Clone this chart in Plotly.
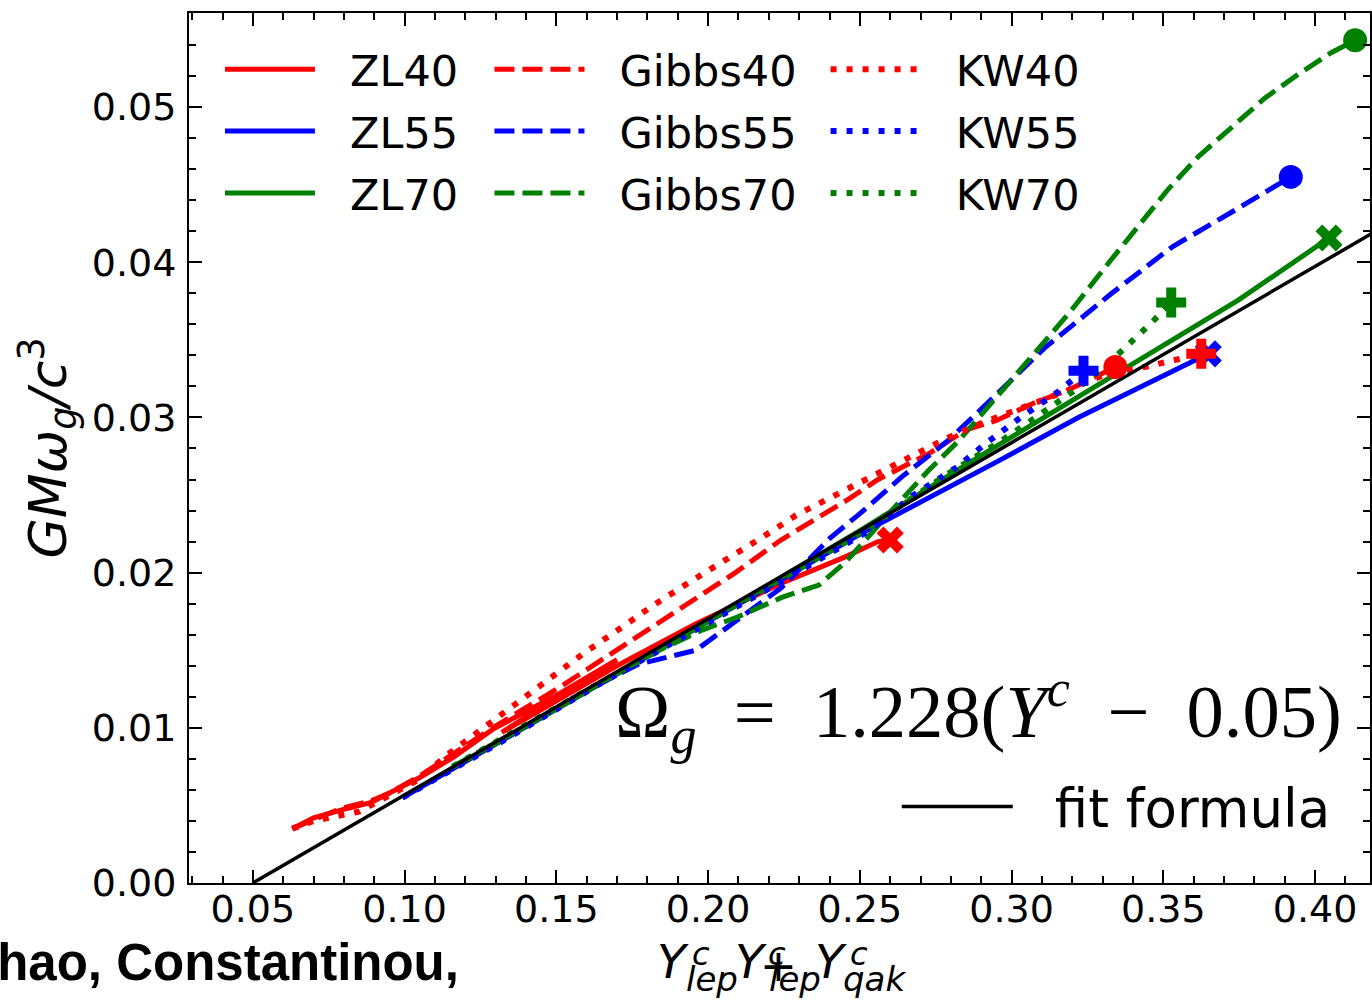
import plotly.graph_objects as go

# ---------------- data ----------------
ZL40_x = [0.063, 0.070, 0.079, 0.089, 0.095, 0.105, 0.116, 0.129, 0.151, 0.170, 0.132, 0.170, 0.196, 0.224, 0.245, 0.256, 0.260]
ZL40_y = [0.0035, 0.0042, 0.0047, 0.0052, 0.0058, 0.0068, 0.0081, 0.0099, 0.0122, 0.0144, 0.0097, 0.0140, 0.0167, 0.0193, 0.0210, 0.0220, 0.0221]

ZL55_x = [0.0993, 0.120, 0.150, 0.180, 0.210, 0.240, 0.2507, 0.2957, 0.322, 0.3648]
ZL55_y = [0.0055, 0.0078, 0.0112, 0.0146, 0.0180, 0.0214, 0.02255, 0.0272, 0.0300, 0.0341]

ZL70_x = [0.1158, 0.150, 0.200, 0.250, 0.2891, 0.330, 0.3747, 0.4046]
ZL70_y = [0.0074, 0.0112, 0.0169, 0.0227, 0.02745, 0.0323, 0.03756, 0.04156]

Gibbs40_x = [0.063, 0.079, 0.089, 0.095, 0.105, 0.116, 0.129, 0.151, 0.174, 0.191, 0.209, 0.224, 0.246, 0.256, 0.273, 0.285, 0.295, 0.307, 0.319, 0.3342]
Gibbs40_y = [0.0035, 0.0048, 0.0053, 0.0058, 0.0069, 0.0083, 0.0100, 0.0126, 0.0155, 0.0177, 0.0200, 0.0221, 0.0247, 0.0260, 0.0277, 0.0292, 0.0298, 0.0309, 0.0318, 0.03325]

Gibbs55_x = [0.0993, 0.118, 0.138, 0.158, 0.177, 0.196, 0.210, 0.224, 0.240, 0.250, 0.264, 0.279, 0.293, 0.311, 0.333, 0.353, 0.374, 0.392]
Gibbs55_y = [0.0055, 0.0076, 0.0099, 0.0122, 0.0141, 0.0150, 0.0170, 0.0190, 0.0222, 0.0238, 0.0262, 0.0285, 0.0311, 0.0345, 0.0380, 0.0410, 0.0434, 0.0455]

Gibbs70_x = [0.1158, 0.1378, 0.1697, 0.1839, 0.1980, 0.2092, 0.2243, 0.2365, 0.2454, 0.2539, 0.2628, 0.2727, 0.2826, 0.2990, 0.3089, 0.3197, 0.3309, 0.3418, 0.3516, 0.3615, 0.3724, 0.3836, 0.3944, 0.4053, 0.4132]
Gibbs70_y = [0.0075, 0.0099, 0.0135, 0.0150, 0.0163, 0.0171, 0.0184, 0.0192, 0.0207, 0.0226, 0.0245, 0.0266, 0.0285, 0.0322, 0.0345, 0.0369, 0.0397, 0.0423, 0.0447, 0.0468, 0.0487, 0.0506, 0.0521, 0.0535, 0.0543]

KW40_x = [0.063, 0.070, 0.085, 0.095, 0.104, 0.115, 0.126, 0.137, 0.148, 0.159, 0.171, 0.182, 0.194, 0.206, 0.218, 0.229, 0.242, 0.254, 0.266, 0.279, 0.291, 0.305, 0.318, 0.330, 0.345, 0.3625]
KW40_y = [0.0035, 0.0040, 0.0046, 0.0056, 0.0066, 0.0084, 0.0100, 0.0116, 0.0132, 0.0148, 0.0164, 0.0179, 0.0194, 0.0208, 0.0223, 0.0237, 0.0250, 0.0263, 0.0275, 0.0287, 0.0297, 0.0307, 0.0317, 0.0327, 0.0333, 0.0341]

KW55_x = [0.0993, 0.131, 0.164, 0.197, 0.223, 0.253, 0.267, 0.282, 0.292, 0.303, 0.315, 0.3237]
KW55_y = [0.0055, 0.0090, 0.0128, 0.0164, 0.0193, 0.0227, 0.0249, 0.0268, 0.0284, 0.0300, 0.0316, 0.0330]

KW70_x = [0.1158, 0.1477, 0.1806, 0.2135, 0.2464, 0.2793, 0.2967, 0.3079, 0.3197, 0.3309, 0.3411, 0.3461, 0.3526]
KW70_y = [0.0075, 0.0110, 0.0147, 0.0184, 0.0221, 0.0264, 0.0285, 0.0300, 0.0316, 0.0333, 0.0351, 0.0361, 0.0374]

fit_x = [0.05, 0.42]
fit_y = [0.0, 0.0420]

x_ticks = [0.05, 0.10, 0.15, 0.20, 0.25, 0.30, 0.35, 0.40]
x_tick_labels = ["0.05", "0.10", "0.15", "0.20", "0.25", "0.30", "0.35", "0.40"]
y_ticks = [0.00, 0.01, 0.02, 0.03, 0.04, 0.05]
y_tick_labels = ["0.00", "0.01", "0.02", "0.03", "0.04", "0.05"]

# ---------------- styling ----------------
RED, BLUE, GREEN = "#ff0000", "#0000ff", "#008000"
DASH = "20px,8px"
DOT = "6px,10px"
GAP = "\u2002\u2009"  # gap between legend sample and label

series = [
    # name, x, y, color, dash, width, end-marker symbol, marker size, legend
    ("ZL40", ZL40_x, ZL40_y, RED, "solid", 5, "x", 24, "legend"),
    ("ZL55", ZL55_x, ZL55_y, BLUE, "solid", 5, "x", 24, "legend"),
    ("ZL70", ZL70_x, ZL70_y, GREEN, "solid", 5, "x", 24, "legend"),
    ("Gibbs40", Gibbs40_x, Gibbs40_y, RED, DASH, 5, "circle", 24, "legend2"),
    ("Gibbs55", Gibbs55_x, Gibbs55_y, BLUE, DASH, 5, "circle", 24, "legend2"),
    ("Gibbs70", Gibbs70_x, Gibbs70_y, GREEN, DASH, 5, "circle", 24, "legend2"),
    ("KW40", KW40_x, KW40_y, RED, DOT, 6, "cross", 25, "legend3"),
    ("KW55", KW55_x, KW55_y, BLUE, DOT, 6, "cross", 25, "legend3"),
    ("KW70", KW70_x, KW70_y, GREEN, DOT, 6, "cross", 25, "legend3"),
]

fig = go.Figure()
for name, xs, ys, col, dash, w, sym, msz, leg in series:
    fig.add_trace(go.Scatter(
        x=xs, y=ys, mode="lines", name=GAP + name, legend=leg, legendgroup=name,
        line=dict(color=col, width=w, dash=dash),
    ))

fig.add_trace(go.Scatter(
    x=fit_x, y=fit_y, mode="lines", name=GAP + "fit formula", legend="legend4",
    line=dict(color="black", width=3.5),
))

for name, xs, ys, col, dash, w, sym, msz, leg in series:
    fig.add_trace(go.Scatter(
        x=[xs[-1]], y=[ys[-1]], mode="markers", showlegend=False,
        marker=dict(symbol=sym, size=msz, color=col, line=dict(width=0)),
    ))

FONT = "DejaVu Sans"
leg_common = dict(
    bgcolor="rgba(0,0,0,0)", borderwidth=0, orientation="v",
    font=dict(family=FONT, size=43, color="black"),
    itemwidth=90, tracegroupgap=3, xanchor="left", yanchor="top",
)

fig.update_layout(
    width=1372, height=1003,
    margin=dict(l=189, r=0, t=13, b=120),
    paper_bgcolor="white", plot_bgcolor="white",
    font=dict(family=FONT, size=38, color="black"),
    legend=dict(x=0.0262, y=0.975, **leg_common),
    legend2=dict(x=0.2544, y=0.975, **leg_common),
    legend3=dict(x=0.539, y=0.975, **leg_common),
    legend4=dict(x=0.5993, y=0.088, xanchor="left", yanchor="middle",
                 bgcolor="rgba(0,0,0,0)", borderwidth=0, itemwidth=111,
                 font=dict(family=FONT, size=53, color="black")),
    showlegend=True,
)

axis_common = dict(
    showgrid=False, zeroline=False, showline=True, linecolor="black", linewidth=2,
    mirror="ticks", ticks="inside", ticklen=13, tickwidth=2, tickcolor="black",
    tickfont=dict(family=FONT, size=38, color="black"),
)

fig.update_xaxes(
    range=[0.02895, 0.4181], tickmode="array", tickvals=x_ticks, ticktext=x_tick_labels,
    minor=dict(dtick=0.01, tick0=0.0, ticks="inside", ticklen=7, tickwidth=1.5, tickcolor="black"),
    ticklabelstandoff=-9,
    **axis_common,
)
fig.update_yaxes(
    range=[0.0, 0.05606], tickmode="array", tickvals=y_ticks, ticktext=y_tick_labels,
    minor=dict(dtick=0.002, tick0=0.0, ticks="inside", ticklen=7, tickwidth=1.5, tickcolor="black"),
    ticklabelstandoff=3,
    title=dict(text="<i>GMω<sub>g</sub>/c</i><sup>3</sup>", font=dict(family=FONT, size=52), standoff=9),
    **axis_common,
)

annotations = []
# formula
annotations.append(dict(
    x=0.4095, y=0.0110, xref="x", yref="y", xanchor="right", yanchor="middle",
    text="Ω<sub><i>g</i></sub>\u2002=\u20021.228(<i>Y</i><sup><i>c</i></sup>\u2002−\u20020.05)",
    showarrow=False, font=dict(family="Liberation Serif", size=74.5, color="black"),
))

# x-axis title pieces (overlapping mathtext as in the reference)
def px2paper_x(px):
    return (px - 189) / 1183.0

def px2paper_y(py):
    return (883 - py) / 870.0

xt_pieces = [
    ("<i>Y</i>", 674, 962, 47),
    ("<i>c</i>", 702, 954, 32),
    ("<i>lep</i>", 713, 979, 34),
    ("<i>Y</i>", 752, 962, 47),
    ("+", 779, 965, 44),
    ("<i>c</i>", 778, 954, 32),
    ("<i>lep</i>", 796, 979, 34),
    ("<i>Y</i>", 832, 962, 47),
    ("<i>c</i>", 860, 954, 32),
    ("<i>qak</i>", 876, 979, 34),
]
for t, px, py, sz in xt_pieces:
    annotations.append(dict(
        x=px2paper_x(px), y=px2paper_y(py), xref="paper", yref="paper",
        xanchor="center", yanchor="middle", text=t, showarrow=False,
        font=dict(family=FONT, size=sz, color="black"),
    ))

annotations.append(dict(
    x=px2paper_x(461), y=px2paper_y(963), xref="paper", yref="paper",
    xanchor="right", yanchor="middle", text="<b>Zhao, Constantinou,</b>",
    showarrow=False, font=dict(family="Liberation Sans", size=51, color="black"),
))

fig.update_layout(annotations=annotations)

fig.write_html("out.html")
